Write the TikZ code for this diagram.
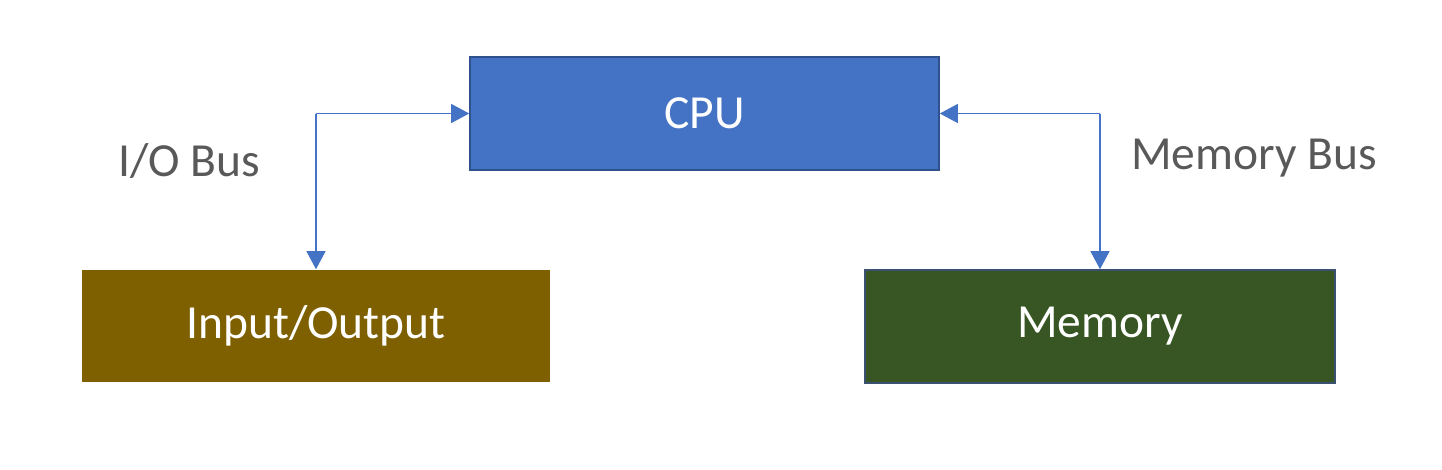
\documentclass[tikz,border=0pt]{standalone}
\usepackage{fontspec}
\setmainfont{Carlito}
\usetikzlibrary{arrows.meta}

\definecolor{cpufill}{HTML}{4472C4}
\definecolor{cpuedge}{HTML}{2F528F}
\definecolor{iofill}{HTML}{7F6000}
\definecolor{memfill}{HTML}{375623}
\definecolor{memedge}{HTML}{3A5270}
\definecolor{label}{HTML}{595959}

\begin{document}
\begin{tikzpicture}[
  x=1pt, y=-1pt,
  every node/.style={font=\fontsize{47.5}{54}\selectfont},
  unit/.style={rectangle, inner sep=0pt, text=white, line width=1.6pt},
  bus/.style={draw=cpufill, line width=1.1pt, -{Triangle[width=19pt,length=18pt]}},
  buslabel/.style={text=label, anchor=west, inner sep=0pt},
]
\useasboundingbox (0,0) rectangle (1442,469);
\node[unit, fill=cpufill, draw=cpuedge, minimum width=469pt, minimum height=113pt] (cpu) at (704.5,113.5) {CPU};
\node[unit, fill=iofill, minimum width=468pt, minimum height=112pt] (io) at (316,326) {Input/Output};
\node[unit, fill=memfill, draw=memedge, minimum width=470pt, minimum height=113pt] (mem) at (1100,326.5) {Memory};
\coordinate (iobend) at (io.north |- cpu.west);
\coordinate (membend) at (mem.north |- cpu.east);
\draw[bus] (iobend) -- (cpu.west);
\draw[bus] (iobend) -- (io.north);
\draw[bus] (membend) -- (cpu.east);
\draw[bus] (membend) -- (mem.north);
\node[buslabel] (iolabel) at (118,161) {I/O\ Bus};
\node[buslabel] (memlabel) at (1131,158) {Memory Bus};
\end{tikzpicture}
\end{document}
